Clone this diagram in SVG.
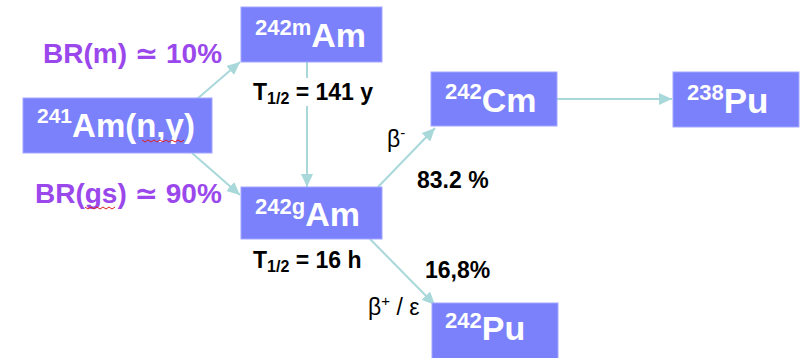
<svg xmlns="http://www.w3.org/2000/svg" width="805" height="358" viewBox="0 0 805 358">
<defs>
<style>
.box{fill:#7b80fb;stroke:#a3a6ff;stroke-width:1}
.lbl{font-family:"Liberation Sans",Arial,sans-serif;font-weight:bold;fill:#ffffff}
.main{font-size:34px}
.sup{font-size:22px}
.con{stroke:#a9d8da;stroke-width:2;fill:none}
.br{font-family:"Liberation Sans","DejaVu Sans",Arial,sans-serif;font-weight:bold;font-size:28px;fill:#9a48ec}
.blk{font-family:"Liberation Sans",Arial,sans-serif;font-weight:bold;font-size:23px;fill:#000}
.reg{font-family:"Liberation Sans","DejaVu Sans",Arial,sans-serif;font-size:23px;fill:#000}
.wavy{stroke:#e02020;stroke-width:1;fill:none}
</style>
<marker id="ah" markerUnits="userSpaceOnUse" markerWidth="14" markerHeight="12" refX="13" refY="6" orient="auto">
<path d="M0,0 L13,6 L0,12 z" fill="#a9d8da"/>
</marker>
</defs>
<rect width="805" height="358" fill="#ffffff"/>

<g id="connectors">
<line class="con" x1="197" y1="99" x2="240" y2="62" marker-end="url(#ah)"/>
<line class="con" x1="192" y1="153" x2="240" y2="195" marker-end="url(#ah)"/>
<line class="con" x1="307" y1="62" x2="307" y2="187" marker-end="url(#ah)"/>
<line class="con" x1="378" y1="187" x2="435" y2="128" marker-end="url(#ah)"/>
<line class="con" x1="370" y1="239" x2="435" y2="305" marker-end="url(#ah)"/>
<line class="con" x1="557" y1="99" x2="672" y2="99" marker-end="url(#ah)"/>
</g>

<g id="node-241Am">
<rect class="box" x="23" y="98" width="189" height="55"/>
<text class="lbl" x="37" y="137"><tspan font-size="21" dy="-14">241</tspan><tspan font-size="33" dy="14">Am(n,γ)</tspan></text>
<path class="wavy" d="M142,140 l3,2 l3,-2 l3,2 l3,-2 l3,2 l3,-2 l3,2 l3,-2 l3,2 l3,-2 l3,2 l3,-2 l3,2 l3,-2"/>
</g>

<g id="node-242mAm">
<rect class="box" x="241" y="7" width="141" height="55"/>
<text class="lbl" x="255" y="47"><tspan class="sup" dy="-12">242m</tspan><tspan class="main" dy="12">Am</tspan></text>
</g>

<g id="node-242gAm">
<rect class="box" x="241" y="187" width="141" height="52"/>
<text class="lbl" x="255" y="226"><tspan class="sup" dy="-12">242g</tspan><tspan class="main" dy="12">Am</tspan></text>
</g>

<g id="node-242Cm">
<rect class="box" x="431" y="72" width="126" height="54"/>
<text class="lbl" x="445" y="112"><tspan class="sup" dy="-13">242</tspan><tspan class="main" dy="13">Cm</tspan></text>
</g>

<g id="node-238Pu">
<rect class="box" x="673" y="72" width="126" height="55"/>
<text class="lbl" x="687" y="113"><tspan class="sup" dy="-13">238</tspan><tspan font-size="35" dy="13">Pu</tspan></text>
</g>

<g id="node-242Pu">
<rect class="box" x="432" y="303" width="126" height="56"/>
<text class="lbl" x="445" y="340"><tspan class="sup" dy="-12">242</tspan><tspan font-size="34" dy="12">Pu</tspan></text>
</g>

<g id="labels">
<text class="br" x="43" y="63">BR(m) ≃ 10%</text>
<text class="br" x="35" y="203">BR(gs) ≃ 90%</text>
<path class="wavy" d="M85,207 l3,2 l3,-2 l3,2 l3,-2 l3,2 l3,-2 l3,2 l3,-2 l3,2 l3,-2"/>
<rect x="250" y="78" width="128" height="28" fill="#ffffff"/>
<text class="blk" x="253" y="100">T<tspan font-size="16" dy="4">1/2</tspan><tspan dy="-4"> = 141 y</tspan></text>
<text class="blk" x="253" y="268">T<tspan font-size="16" dy="4">1/2</tspan><tspan dy="-4"> = 16 h</tspan></text>
<text class="reg" x="387" y="147">β<tspan font-size="15" dy="-9">-</tspan></text>
<text class="blk" x="417" y="188">83.2 %</text>
<text class="blk" x="425" y="278">16,8%</text>
<text class="reg" x="368" y="315">β<tspan font-size="15" dy="-9">+</tspan><tspan dy="9"> / ε</tspan></text>
</g>
</svg>
